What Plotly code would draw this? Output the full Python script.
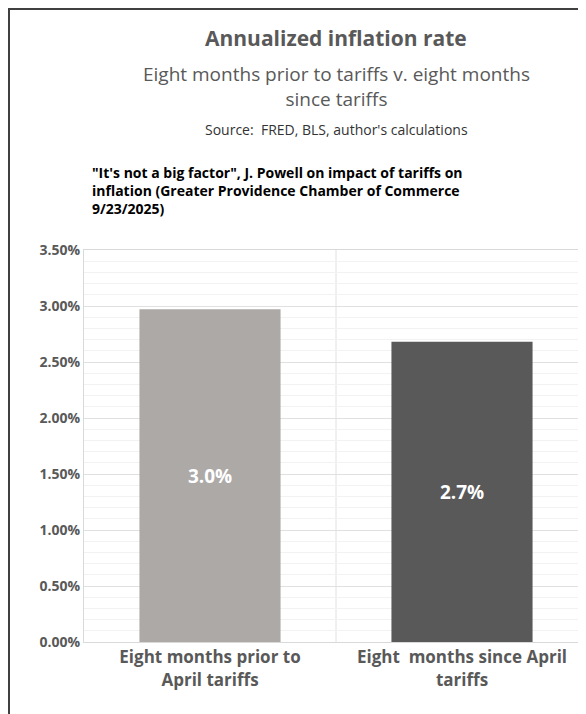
import plotly.graph_objects as go

categories = ["Eight months prior to<br>April tariffs", "Eight  months since April<br>tariffs"]
values = [0.0297, 0.0268]
bar_labels = ["3.0%", "2.7%"]
colors = ["#ADA9A7", "#595959"]

FONT = "Open Sans"
GRAY = "#595959"

fig = go.Figure()
fig.add_trace(go.Bar(
    x=[0, 1], y=values, width=0.56,
    marker=dict(color=colors, line=dict(width=0)),
    text=bar_labels, textposition="inside", insidetextanchor="middle",
    textfont=dict(family=FONT, size=19, color="white", weight="bold"),
    hoverinfo="skip",
))

fig.update_layout(
    width=586, height=714,
    margin=dict(l=76, r=6, t=242, b=80),
    paper_bgcolor="white", plot_bgcolor="white",
    showlegend=False,
    font=dict(family=FONT, color=GRAY),
    xaxis=dict(
        range=[-0.5, 1.5], tickvals=[0, 1], ticktext=categories,
        tickfont=dict(family=FONT, size=17, color=GRAY, weight="bold"),
        showgrid=False, zeroline=False, showline=True, linecolor="#D9D9D9",
        mirror=True, ticks="", automargin=False,
    ),
    yaxis=dict(
        range=[0, 0.035], dtick=0.005, tickformat=".2%",
        tickfont=dict(family=FONT, size=14, color=GRAY, weight="bold"),
        showgrid=True, gridcolor="#E0E0E0", zeroline=False,
        showline=True, linecolor="#D9D9D9", mirror=True, automargin=False,
        minor=dict(dtick=0.001, showgrid=True, gridcolor="#F2F2F2"),
    ),
    shapes=[
        dict(type="line", xref="x", yref="paper", x0=0.5, x1=0.5, y0=0, y1=1,
             line=dict(color="#E0E0E0", width=1), layer="below"),
        dict(type="rect", xref="paper", yref="paper",
             x0=-75/504, x1=1 + 3/504, y0=-78/392, y1=1 + 241/392,
             line=dict(color="#404040", width=2)),
    ],
    annotations=[
        dict(text="<b>Annualized inflation rate</b>", x=0.5, y=1 + 212/392,
             xref="paper", yref="paper", xanchor="center", yanchor="middle",
             showarrow=False, font=dict(family=FONT, size=21, color=GRAY)),
        dict(text="Eight months prior to tariffs v. eight months<br>since tariffs",
             x=0.5, y=1 + 163/392, xref="paper", yref="paper",
             xanchor="center", yanchor="middle", showarrow=False,
             font=dict(family=FONT, size=19, color=GRAY)),
        dict(text="Source:  FRED, BLS, author's calculations",
             x=0.5, y=1 + 121/392, xref="paper", yref="paper",
             xanchor="center", yanchor="middle", showarrow=False,
             font=dict(family=FONT, size=14, color="#333333")),
        dict(text="<b>\"It's not a big factor\", J. Powell on impact of tariffs on<br>"
                  "inflation (Greater Providence Chamber of Commerce<br>9/23/2025)</b>",
             x=6/504, y=1 + 89/392, xref="paper", yref="paper",
             xanchor="left", yanchor="top", align="left", showarrow=False,
             font=dict(family=FONT, size=14, color="black")),
    ],
)

fig.write_html("out.html")
